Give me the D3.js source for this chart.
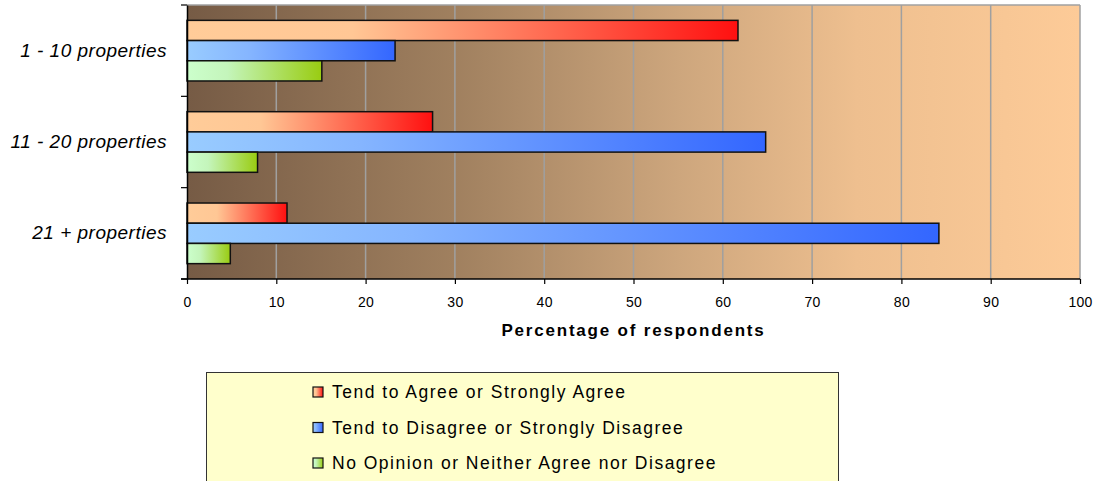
<!DOCTYPE html>
<html><head><meta charset="utf-8">
<script src="https://cdn.jsdelivr.net/npm/d3@7"></script>
<style>body{margin:0;background:#fff}svg{display:block}</style>
</head><body>
<svg id="chart" width="1100" height="481"></svg>
<script>
const categories = ["1 - 10 properties", "11 - 20 properties", "21 + properties"];
const seriesNames = ["Tend to Agree or Strongly Agree", "Tend to Disagree or Strongly Disagree", "No Opinion or Neither Agree nor Disagree"];
const agree = [61.7, 27.5, 11.2];
const disagree = [23.3, 64.8, 84.2];
const noOpinion = [15.1, 7.9, 4.85];
const xTicks = [0, 10, 20, 30, 40, 50, 60, 70, 80, 90, 100];
const axisTitle = "Percentage of respondents";

const FONT = "Liberation Sans, Arial, sans-serif";
const svg = d3.select("#chart");
const m = {left: 187, right: 1080, top: 5, bottom: 279};
const x = d3.scaleLinear().domain([0, 100]).range([m.left, m.right]);
const y = d3.scaleBand().domain(categories).range([m.top, m.bottom]);
const keys = ["a", "d", "n"];
const yInner = d3.scaleBand().domain(keys).range([0, y.bandwidth()]).paddingInner(0).paddingOuter(0.76);

const defs = svg.append("defs");
const bg = defs.append("linearGradient").attr("id", "bg");
[[0, "#765b45"], [0.3, "#a0805f"], [0.55, "#cda67d"], [0.75, "#eebf8f"], [1, "#fdcb98"]]
  .forEach(([o, c]) => bg.append("stop").attr("offset", o).attr("stop-color", c));
const grads = {a: ["#ffcc99", "#ffc795", "#ff1010"], d: ["#99ccff", "#85b5ff", "#3366ff"], n: ["#ccffcc", "#c4f5bb", "#99cc11"]};
Object.entries(grads).forEach(([k, cs]) => {
  const g = defs.append("linearGradient").attr("id", "g" + k);
  g.append("stop").attr("offset", 0).attr("stop-color", cs[0]);
  g.append("stop").attr("offset", 0.3).attr("stop-color", cs[1]);
  g.append("stop").attr("offset", 1).attr("stop-color", cs[2]);
});

// plot background
svg.append("rect").attr("x", m.left).attr("y", m.top).attr("width", m.right - m.left).attr("height", m.bottom - m.top).attr("fill", "url(#bg)");

// gridlines
svg.append("g").selectAll("line").data(xTicks.filter(t => t > 0)).join("line")
  .attr("x1", d => x(d)).attr("x2", d => x(d)).attr("y1", m.top).attr("y2", m.bottom)
  .attr("stroke", "#a0a0a0").attr("stroke-width", 1.5);
svg.append("line").attr("x1", m.left).attr("x2", m.right).attr("y1", m.top).attr("y2", m.top).attr("stroke", "#a0a0a0").attr("stroke-width", 1.5);

// bars
const data = categories.map((c, i) => ({c, vals: [{k: "a", v: agree[i]}, {k: "d", v: disagree[i]}, {k: "n", v: noOpinion[i]}]}));
const grp = svg.append("g").selectAll("g").data(data).join("g").attr("transform", d => `translate(0,${y(d.c)})`);
grp.selectAll("rect").data(d => d.vals).join("rect")
  .attr("x", x(0)).attr("y", d => yInner(d.k)).attr("width", d => x(d.v) - x(0)).attr("height", yInner.bandwidth())
  .attr("fill", d => `url(#g${d.k})`).attr("stroke", "#111").attr("stroke-width", 1.5);

// x axis
const xAxis = svg.append("g").attr("transform", `translate(0,${m.bottom})`)
  .call(d3.axisBottom(x).tickValues(xTicks).tickSize(5).tickSizeOuter(0));
xAxis.select(".domain").attr("stroke", "#000").attr("stroke-width", 1.5).attr("d", `M${m.left - 6},0H${m.right}`);
xAxis.selectAll(".tick line").attr("stroke", "#000").attr("stroke-width", 1.2);
xAxis.selectAll(".tick text").attr("font-family", FONT).attr("font-size", 14).attr("letter-spacing", 0.3)
  .attr("fill", "#000").attr("dy", "0.75em").attr("y", 17.5);

// y axis
const yAxis = svg.append("g").attr("transform", `translate(${m.left},0)`)
  .call(d3.axisLeft(y).tickSize(0));
yAxis.select(".domain").attr("stroke", "#000").attr("stroke-width", 1.5);
yAxis.selectAll(".tick text").attr("font-family", FONT).attr("font-size", 19).attr("letter-spacing", 0.5)
  .attr("font-style", "italic").attr("fill", "#000").attr("x", -20);
svg.append("g").selectAll("line").data(categories.map(c => y(c)).concat([m.bottom])).join("line")
  .attr("x1", m.left - 6).attr("x2", m.left).attr("y1", d => d).attr("y2", d => d)
  .attr("stroke", "#000").attr("stroke-width", 1.2);

// axis title
svg.append("text").attr("x", (m.left + m.right) / 2).attr("y", 335.5).attr("text-anchor", "middle")
  .attr("font-family", FONT).attr("font-size", 17).attr("font-weight", "bold").attr("letter-spacing", 1.8)
  .text(axisTitle);

// legend
svg.append("rect").attr("x", 206.5).attr("y", 372.5).attr("width", 632).attr("height", 120)
  .attr("fill", "#ffffcc").attr("stroke", "#333").attr("stroke-width", 1);
const lg = svg.append("g").selectAll("g").data(keys).join("g")
  .attr("transform", (d, i) => `translate(313,${392 + i * 35.5})`);
lg.append("rect").attr("x", 0).attr("y", -5).attr("width", 10).attr("height", 10)
  .attr("fill", d => `url(#g${d})`).attr("stroke", "#111").attr("stroke-width", 1.2);
lg.append("text").attr("x", 19).attr("y", 0).attr("dy", "0.36em")
  .attr("font-family", FONT).attr("font-size", 17.5).attr("letter-spacing", 1.5).attr("fill", "#000")
  .text((d, i) => seriesNames[i]);
</script>
</body></html>
